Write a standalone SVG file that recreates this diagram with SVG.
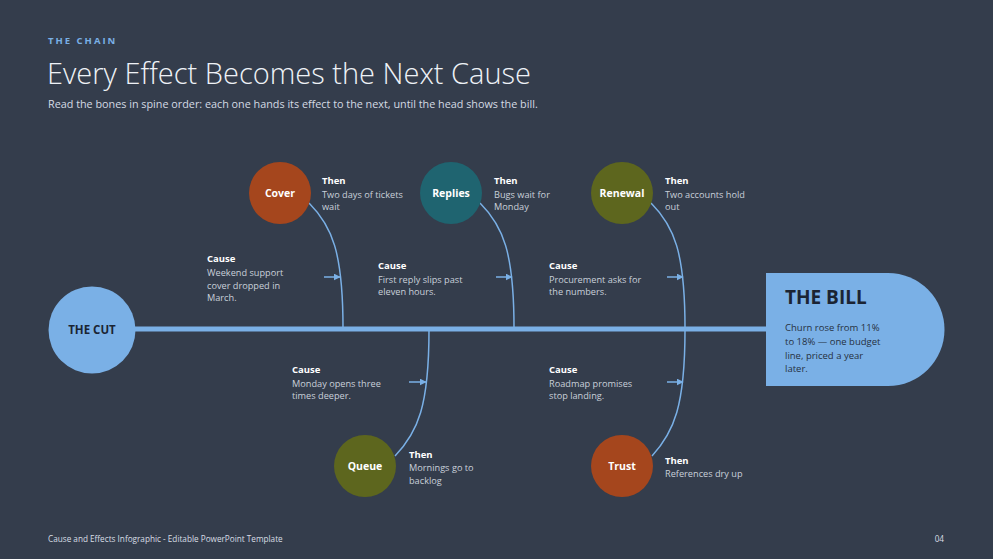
<svg xmlns="http://www.w3.org/2000/svg" width="993" height="559" viewBox="0 0 993 559">
<defs>
<style>
text{font-family:"Open Sans","Noto Sans","DejaVu Sans",sans-serif}
.kicker{font-size:9.5px;font-weight:700;fill:#7ab0e6;letter-spacing:2px}
.title{font-size:29px;font-weight:300;fill:#eef2f7}
.sub{font-size:10.8px;fill:#d5dbe4}
.hd{font-size:9.5px;font-weight:700;fill:#ffffff}
.bd{font-size:9.2px;fill:#c9d0da}
.lbl{font-size:10.5px;font-weight:700;fill:#ffffff;text-anchor:middle}
.bone{fill:none;stroke:#7ab0e6;stroke-width:1.5}
.arr{fill:none;stroke:#7ab0e6;stroke-width:1.5}
.foot{font-size:8.2px;fill:#d8dde5}
</style>
<marker id="ah" viewBox="0 0 10 10" refX="9" refY="5" markerWidth="7" markerHeight="7" orient="auto" markerUnits="userSpaceOnUse">
<path d="M0,0 L10,5 L0,10 Z" fill="#7ab0e6"/>
</marker>
</defs>
<rect width="993" height="559" fill="#343d4c"/>
<text class="kicker" x="48" y="44">THE CHAIN</text>
<text class="title" x="47" y="84">Every Effect Becomes the Next Cause</text>
<text class="sub" x="48" y="108">Read the bones in spine order: each one hands its effect to the next, until the head shows the bill.</text>

<g id="connectors">
<line x1="134" y1="329" x2="767" y2="329" stroke="#7ab0e6" stroke-width="5"/>
<path class="bone" d="M309,203 C332,226 343,252 343,328"/>
<path class="bone" d="M480,203 C503,226 514,252 514,328"/>
<path class="bone" d="M651,203 C674,226 685,252 685,328"/>
<path class="bone" d="M429,330 C429,406 418,432 395,456"/>
<path class="bone" d="M685,330 C685,406 674,432 652,456"/>
<line class="arr" x1="324" y1="277" x2="340" y2="277" marker-end="url(#ah)"/>
<line class="arr" x1="496" y1="277" x2="512" y2="277" marker-end="url(#ah)"/>
<line class="arr" x1="667" y1="277" x2="683" y2="277" marker-end="url(#ah)"/>
<line class="arr" x1="409" y1="382" x2="426" y2="382" marker-end="url(#ah)"/>
<line class="arr" x1="667" y1="382" x2="683" y2="382" marker-end="url(#ah)"/>
</g>

<g id="the-cut">
<circle cx="92" cy="330" r="43.5" fill="#7ab0e6"/>
<text x="92" y="334" font-size="11.5" font-weight="700" fill="#1b2433" text-anchor="middle">THE CUT</text>
</g>

<g id="the-bill">
<path d="M766,273 H888 A56.5,56.5 0 0 1 888,386 H766 Z" fill="#7ab0e6"/>
<text x="785" y="304" font-size="19" font-weight="700" fill="#1b2433">THE BILL</text>
<text x="785" y="331" font-size="9.5" fill="#26303f">Churn rose from 11%</text>
<text x="785" y="345" font-size="9.5" fill="#26303f">to 18% — one budget</text>
<text x="785" y="358.5" font-size="9.5" fill="#26303f">line, priced a year</text>
<text x="785" y="372" font-size="9.5" fill="#26303f">later.</text>
</g>

<g id="cover">
<circle cx="280" cy="193" r="31" fill="#a5461d"/>
<text class="lbl" x="280" y="197">Cover</text>
<text class="hd" x="322" y="184">Then</text>
<text class="bd" x="322" y="197.5">Two days of tickets</text>
<text class="bd" x="322" y="210">wait</text>
<text class="hd" x="207" y="262">Cause</text>
<text class="bd" x="207" y="276">Weekend support</text>
<text class="bd" x="207" y="288.5">cover dropped in</text>
<text class="bd" x="207" y="301">March.</text>
</g>

<g id="replies">
<circle cx="451" cy="193" r="31" fill="#1f6470"/>
<text class="lbl" x="451" y="197">Replies</text>
<text class="hd" x="494" y="184">Then</text>
<text class="bd" x="494" y="197.5">Bugs wait for</text>
<text class="bd" x="494" y="210">Monday</text>
<text class="hd" x="378" y="269">Cause</text>
<text class="bd" x="378" y="282.5">First reply slips past</text>
<text class="bd" x="378" y="295">eleven hours.</text>
</g>

<g id="renewal">
<circle cx="622" cy="193" r="31" fill="#5d661e"/>
<text class="lbl" x="622" y="197">Renewal</text>
<text class="hd" x="665" y="184">Then</text>
<text class="bd" x="665" y="197.5">Two accounts hold</text>
<text class="bd" x="665" y="210">out</text>
<text class="hd" x="549" y="269">Cause</text>
<text class="bd" x="549" y="282.5">Procurement asks for</text>
<text class="bd" x="549" y="295">the numbers.</text>
</g>

<g id="queue">
<circle cx="365" cy="466" r="31" fill="#5d661e"/>
<text class="lbl" x="365" y="470">Queue</text>
<text class="hd" x="409" y="458">Then</text>
<text class="bd" x="409" y="471">Mornings go to</text>
<text class="bd" x="409" y="483.5">backlog</text>
<text class="hd" x="292" y="373">Cause</text>
<text class="bd" x="292" y="386.5">Monday opens three</text>
<text class="bd" x="292" y="399">times deeper.</text>
</g>

<g id="trust">
<circle cx="622" cy="466" r="31" fill="#a5461d"/>
<text class="lbl" x="622" y="470">Trust</text>
<text class="hd" x="665" y="464">Then</text>
<text class="bd" x="665" y="477">References dry up</text>
<text class="hd" x="549" y="373">Cause</text>
<text class="bd" x="549" y="386.5">Roadmap promises</text>
<text class="bd" x="549" y="399">stop landing.</text>
</g>

<text class="foot" x="48" y="542">Cause and Effects Infographic - Editable PowerPoint Template</text>
<text class="foot" x="944" y="542" text-anchor="end">04</text>
</svg>
